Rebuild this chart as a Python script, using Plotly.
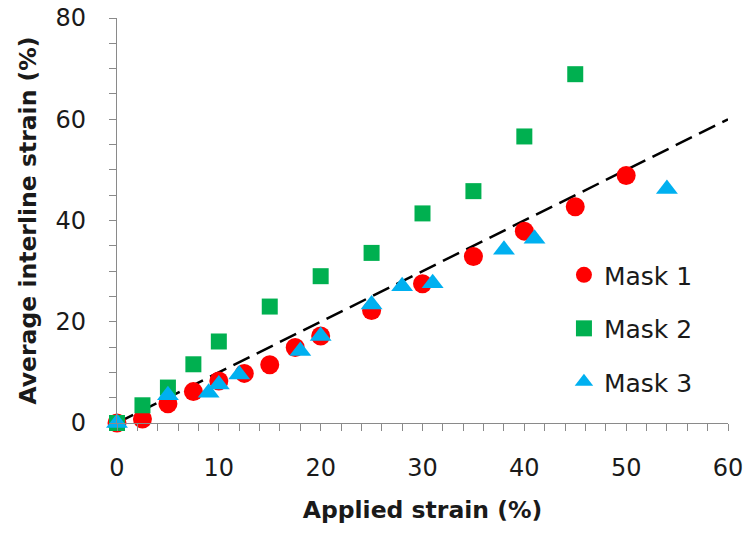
import plotly.graph_objects as go

# Data
mask1_x = [0, 2.5, 5, 7.5, 10, 12.5, 15, 17.5, 20, 25, 30, 35, 40, 45, 50]
mask1_y = [0, 0.8, 3.8, 6.2, 8.3, 9.8, 11.5, 14.9, 17.2, 22.2, 27.5, 32.9, 37.9, 42.7, 48.9]

mask2_x = [0, 2.5, 5, 7.5, 10, 15, 20, 25, 30, 35, 40, 45]
mask2_y = [0, 3.5, 7.0, 11.6, 16.1, 23.0, 29.0, 33.6, 41.4, 45.8, 56.6, 68.9]

mask3_x = [0, 5, 9, 10, 12, 18, 20, 25, 28, 31, 38, 41, 54]
mask3_y = [0, 5.5, 6.0, 7.6, 9.6, 14.2, 17.2, 23.4, 27.0, 27.6, 34.2, 36.4, 46.2]

fit_x = [0, 60]
fit_y = [0, 60]

series_names = ["Mask 1", "Mask 2", "Mask 3"]
colors = ["#FF0000", "#00B050", "#00B0F0"]

FONT = "'DejaVu Sans', sans-serif"
TXT = "#1A1A1A"
AX = "#8A8A8A"

fig = go.Figure()

fig.add_trace(go.Scatter(
    x=fit_x, y=fit_y, mode="lines",
    line=dict(color="black", width=2.5, dash="18px,8px"),
    showlegend=False, hoverinfo="skip", cliponaxis=False,
))

fig.add_trace(go.Scatter(
    x=mask1_x, y=mask1_y, mode="markers", name=series_names[0],
    legendgroup="m1",
    marker=dict(symbol="circle", size=19, color=colors[0], line=dict(width=0)),
    cliponaxis=False,
))
fig.add_trace(go.Scatter(
    x=mask2_x, y=mask2_y, mode="markers", name=series_names[1],
    legendgroup="m2",
    marker=dict(symbol="square", size=16, color=colors[1], line=dict(width=0)),
    cliponaxis=False,
))
fig.add_trace(go.Scatter(
    x=mask3_x, y=mask3_y, mode="markers", name=series_names[2],
    legendgroup="m3",
    marker=dict(symbol="triangle-up", size=19, color=colors[2], line=dict(width=0)),
    cliponaxis=False,
))

axis_common = dict(
    showgrid=False, zeroline=False, showline=True, automargin=False,
    linecolor=AX, linewidth=1.2,
    ticks="outside", ticklen=7, tickcolor=AX, tickwidth=1.2,
    tickfont=dict(family=FONT, size=24, color=TXT),
    ticklabeloverflow="allow",
)

fig.update_xaxes(
    range=[0, 60], dtick=10, tick0=0,
    minor=dict(dtick=2, ticks="outside", ticklen=7, tickcolor=AX, tickwidth=1.2),
    ticklabelstandoff=16,
    title=dict(text="<b>Applied strain (%)</b>", font=dict(family=FONT, size=23.5, color=TXT), standoff=20),
    **axis_common,
)
fig.update_yaxes(
    range=[0, 80], dtick=20, tick0=0,
    minor=dict(dtick=5, ticks="outside", ticklen=7, tickcolor=AX, tickwidth=1.2),
    ticklabelstandoff=18,
    title=dict(text="<b>Average interline strain (%)</b>", font=dict(family=FONT, size=23.5, color=TXT), standoff=12),
    **axis_common,
)

fig.update_layout(
    width=751, height=533,
    margin=dict(l=117, r=23, t=18, b=110),
    plot_bgcolor="white", paper_bgcolor="white",
    legend=dict(
        x=0.7315, y=0.422, xanchor="left", yanchor="top",
        font=dict(family=FONT, size=25, color=TXT),
        traceorder="grouped", tracegroupgap=18,
        bgcolor="rgba(0,0,0,0)", itemwidth=30,
    ),
)

# remove the default 8px page margin so the figure sits at the window's corner
fig.write_html(
    "out.html",
    config={"displayModeBar": False},
    post_script="document.body.style.margin='0';",
)
